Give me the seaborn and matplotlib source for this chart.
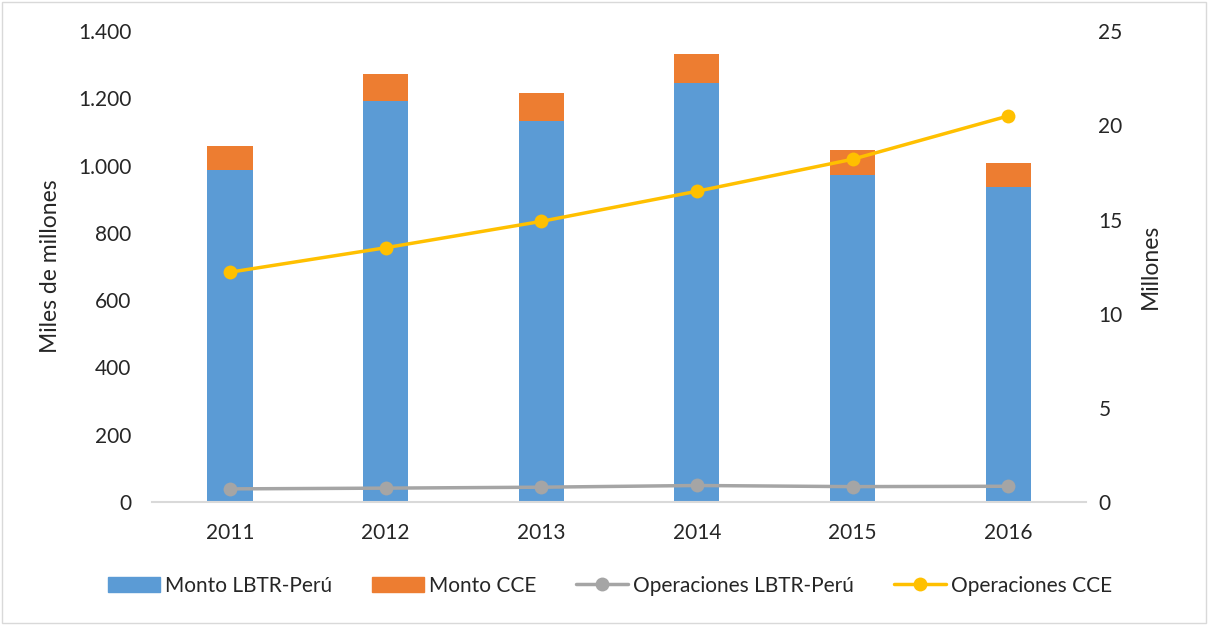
import matplotlib.pyplot as plt
import seaborn as sns
import numpy as np
import pandas as pd
from matplotlib.ticker import FuncFormatter
from matplotlib.lines import Line2D
from matplotlib.patches import Patch, Rectangle

years = ['2011', '2012', '2013', '2014', '2015', '2016']
monto_lbtr = [987, 1192, 1132, 1245, 972, 936]
monto_cce = [71, 80, 84, 87, 74, 72]
ops_lbtr = [0.69, 0.73, 0.78, 0.87, 0.81, 0.83]
ops_cce = [12.2, 13.5, 14.9, 16.5, 18.2, 20.5]

BLUE = '#5B9BD5'
ORANGE = '#ED7D31'
GRAY = '#A5A5A5'
YELLOW = '#FFC000'

sns.set_style('white')
plt.rcParams['font.family'] = ['Lato', 'DejaVu Sans']

df = pd.DataFrame({'year': years, 'lbtr': monto_lbtr, 'cce': monto_cce})
df['total'] = df['lbtr'] + df['cce']

fig = plt.figure(figsize=(12.08, 6.25), dpi=100)
ax = fig.add_axes([0.126, 0.197, 0.773, 0.753])

# stacked bars: total first, LBTR on top of it
sns.barplot(data=df, x='year', y='total', color=ORANGE, width=0.29,
            saturation=1, linewidth=0, ax=ax)
sns.barplot(data=df, x='year', y='lbtr', color=BLUE, width=0.29,
            saturation=1, linewidth=0, ax=ax)

ax.set_ylim(0, 1400)
ax.set_xlim(-0.5, 5.5)
ax.set_yticks(range(0, 1401, 200))
ax.yaxis.set_major_formatter(FuncFormatter(lambda v, p: f'{v:,.0f}'.replace(',', '.')))
ax.set_xlabel('')
ax.set_ylabel('Miles de millones', fontsize=16.5, labelpad=12)
for s in ['top', 'right', 'left']:
    ax.spines[s].set_visible(False)
ax.spines['bottom'].set_color('#D9D9D9')
ax.spines['bottom'].set_linewidth(1.5)
ax.tick_params(axis='y', length=0, pad=15, labelsize=15)
ax.tick_params(axis='x', length=0, pad=15, labelsize=15)

ax2 = ax.twinx()
pos = np.arange(len(years))
sns.lineplot(x=pos, y=ops_lbtr, color=GRAY, marker='o', markersize=10,
             markeredgewidth=0, linewidth=2.5, ax=ax2)
sns.lineplot(x=pos, y=ops_cce, color=YELLOW, marker='o', markersize=10,
             markeredgewidth=0, linewidth=2.5, ax=ax2)
ax2.set_ylim(0, 25)
ax2.set_yticks(range(0, 26, 5))
ax2.set_ylabel('Millones', fontsize=16.5, labelpad=12)
for s in ['top', 'right', 'left', 'bottom']:
    ax2.spines[s].set_visible(False)
ax2.tick_params(axis='y', length=0, pad=9, labelsize=15)
ax2.grid(False)
ax.grid(False)

handles = [
    Patch(color=BLUE, label='Monto LBTR-Perú'),
    Patch(color=ORANGE, label='Monto CCE'),
    Line2D([0], [0], color=GRAY, marker='o', markersize=10, linewidth=2.5,
           markeredgewidth=0, label='Operaciones LBTR-Perú'),
    Line2D([0], [0], color=YELLOW, marker='o', markersize=10, linewidth=2.5,
           markeredgewidth=0, label='Operaciones CCE'),
]
fig.legend(handles=handles, loc='center', bbox_to_anchor=(0.505, 0.063), ncol=4,
           frameon=False, fontsize=15, handlelength=2.5, handletextpad=0.25,
           columnspacing=1.9)

fig.patches.append(Rectangle((0.002, 0.003), 0.996, 0.994, transform=fig.transFigure,
                             fill=False, edgecolor='#D9D9D9', linewidth=1))

plt.savefig('out.png', dpi=100)
plt.close()
